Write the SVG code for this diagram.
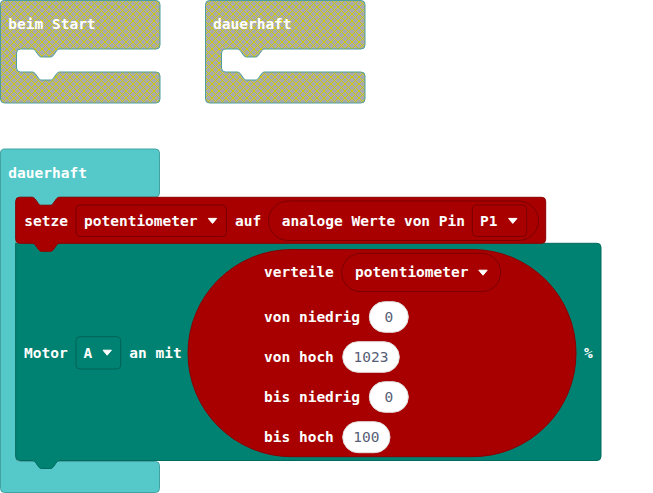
<svg xmlns="http://www.w3.org/2000/svg" xmlns:xlink="http://www.w3.org/1999/xlink" width="653" height="493" viewBox="0 0 653 493">
<style>
.lbl{font-family:"DejaVu Sans Mono","Liberation Mono",monospace;font-weight:bold;font-size:14.5px;fill:#ffffff}
.num{font-family:"DejaVu Sans Mono","Liberation Mono",monospace;font-size:14.5px;fill:#575E75;text-anchor:middle}
.dis{fill:url(#disabledPattern);stroke:#4f9e9e;stroke-width:1}
.cyan{fill:#55C9C9;stroke:#43a3a3;stroke-width:1}
.red{fill:#A80000;stroke:#8a0000;stroke-width:1}
.green{fill:#008272;stroke:#006b5e;stroke-width:1}
.ddr{fill:#A80000;stroke:#7a0000;stroke-width:1}
.ddg{fill:#008272;stroke:#006356;stroke-width:1}
.pill{fill:#ffffff;stroke:#e0e0e0;stroke-width:1}
.arr{fill:#ffffff;stroke:#ffffff;stroke-width:1;stroke-linejoin:round}
</style>
<defs>
<pattern id="disabledPattern" patternUnits="userSpaceOnUse" width="7" height="7">
<rect width="7" height="7" fill="#aaaaaa"/>
<path d="M 0 0 L 7 7 M 7 0 L 0 7" stroke="#cccc00" stroke-width="1"/>
</pattern>
<path id="hatShape" d="M 4.5,0.5 H 156 a4,4 0 0 1 4,4 V 45 a4,4 0 0 1 -4,4 H 60 c -1.5,0 -2.5,0.7 -3.3,1.6 l -3.4,4.8 c -0.8,1 -1.6,1.6 -3,1.6 h -8.6 c -1.4,0 -2.2,-0.6 -3,-1.6 l -3.4,-4.8 c -0.8,-0.9 -1.8,-1.6 -3.3,-1.6 H 20.5 a4,4 0 0 0 -4,4 V 68 a4,4 0 0 0 4,4 H 32 c 1.5,0 2.5,0.7 3.3,1.6 l 3.4,4.8 c 0.8,1 1.6,1.6 3,1.6 h 8.6 c 1.4,0 2.2,-0.6 3,-1.6 l 3.4,-4.8 c 0.8,-0.9 1.8,-1.6 3.3,-1.6 H 156 a4,4 0 0 1 4,4 V 99 a4,4 0 0 1 -4,4 H 4.5 a4,4 0 0 1 -4,-4 V 4.5 a4,4 0 0 1 4,-4 Z"/>
<path id="arrow" d="M -4.2,0 H 4.2 L 0,5 Z"/>
</defs>

<g id="beim-start-disabled">
<use xlink:href="#hatShape" href="#hatShape" class="dis"/>
<text class="lbl" x="8.3" y="28.5">beim Start</text>
</g>

<g id="dauerhaft-disabled">
<use xlink:href="#hatShape" href="#hatShape" class="dis" x="205"/>
<text class="lbl" x="213" y="28.5">dauerhaft</text>
</g>

<g id="dauerhaft">
<path class="cyan" d="M 4.5,149 H 155.5 a4,4 0 0 1 4,4 V 193 a4,4 0 0 1 -4,4 H 60 c -1.5,0 -2.5,0.7 -3.3,1.6 l -3.4,4.8 c -0.8,1 -1.6,1.6 -3,1.6 h -8.6 c -1.4,0 -2.2,-0.6 -3,-1.6 l -3.4,-4.8 c -0.8,-0.9 -1.8,-1.6 -3.3,-1.6 H 19.7 a4,4 0 0 0 -4,4 V 457.5 a4,4 0 0 0 4,4 H 155.5 a4,4 0 0 1 4,4 V 488.5 a4,4 0 0 1 -4,4 H 4.5 a4,4 0 0 1 -4,-4 V 153 a4,4 0 0 1 4,-4 Z"/>
<text class="lbl" x="8.3" y="178.3">dauerhaft</text>
</g>

<g id="motor">
<path class="green" d="M 15.7,243.3 H 31.7 c 1.5,0 2.5,0.7 3.3,1.6 l 3.4,4.8 c 0.8,1 1.6,1.6 3,1.6 h 8.6 c 1.4,0 2.2,-0.6 3,-1.6 l 3.4,-4.8 c 0.8,-0.9 1.8,-1.6 3.3,-1.6 H 597 a4,4 0 0 1 4,4 V 456.5 a4,4 0 0 1 -4,4 H 60 c -1.5,0 -2.5,0.7 -3.3,1.6 l -3.4,4.8 c -0.8,1 -1.6,1.6 -3,1.6 h -8.6 c -1.4,0 -2.2,-0.6 -3,-1.6 l -3.4,-4.8 c -0.8,-0.9 -1.8,-1.6 -3.3,-1.6 H 19.7 a4,4 0 0 1 -4,-4 Z"/>
<text class="lbl" x="24" y="357.7">Motor</text>
<rect class="ddg" x="76" y="336.7" width="44.7" height="32.3" rx="4"/>
<text class="lbl" x="83.5" y="357.7">A</text>
<use xlink:href="#arrow" href="#arrow" class="arr" x="107.2" y="350.2"/>
<text class="lbl" x="129.3" y="357.7">an mit</text>
<text class="lbl" x="584" y="357.7">%</text>
</g>

<g id="verteile">
<rect class="red" x="188" y="249.5" width="388" height="207.2" rx="103.6"/>
<text class="lbl" x="264" y="277.3">verteile</text>
<rect class="ddr" x="341.7" y="253.3" width="159" height="38.4" rx="19.2"/>
<text class="lbl" x="355" y="277.3">potentiometer</text>
<use xlink:href="#arrow" href="#arrow" class="arr" x="483" y="270.2"/>
<text class="lbl" x="264" y="321.7">von niedrig</text>
<rect class="pill" x="369.3" y="301.7" width="39" height="30.6" rx="15.3"/>
<text class="num" x="388.8" y="321.7">0</text>
<text class="lbl" x="264" y="361.7">von hoch</text>
<rect class="pill" x="342.7" y="341.7" width="56.6" height="30.6" rx="15.3"/>
<text class="num" x="371" y="361.7">1023</text>
<text class="lbl" x="264" y="401.7">bis niedrig</text>
<rect class="pill" x="369.3" y="381.7" width="39" height="30.6" rx="15.3"/>
<text class="num" x="388.8" y="401.7">0</text>
<text class="lbl" x="264" y="441.7">bis hoch</text>
<rect class="pill" x="342.7" y="421.7" width="47.3" height="31" rx="15.5"/>
<text class="num" x="366.3" y="441.7">100</text>
</g>

<g id="setze">
<path class="red" d="M 19.7,197.3 H 31.7 c 1.5,0 2.5,0.7 3.3,1.6 l 3.4,4.8 c 0.8,1 1.6,1.6 3,1.6 h 8.6 c 1.4,0 2.2,-0.6 3,-1.6 l 3.4,-4.8 c 0.8,-0.9 1.8,-1.6 3.3,-1.6 H 541.7 a4,4 0 0 1 4,4 V 239.3 a4,4 0 0 1 -4,4 H 60 c -1.5,0 -2.5,0.7 -3.3,1.6 l -3.4,4.8 c -0.8,1 -1.6,1.6 -3,1.6 h -8.6 c -1.4,0 -2.2,-0.6 -3,-1.6 l -3.4,-4.8 c -0.8,-0.9 -1.8,-1.6 -3.3,-1.6 H 19.7 a4,4 0 0 1 -4,-4 V 201.3 a4,4 0 0 1 4,-4 Z"/>
<text class="lbl" x="24.3" y="225.5">setze</text>
<rect class="ddr" x="76" y="205" width="150.5" height="31.5" rx="4"/>
<text class="lbl" x="84" y="225.5">potentiometer</text>
<use xlink:href="#arrow" href="#arrow" class="arr" x="212.5" y="218.4"/>
<text class="lbl" x="235" y="225.5">auf</text>
<rect class="ddr" x="268.5" y="201" width="270" height="39.5" rx="19.75"/>
<text class="lbl" x="281.7" y="225.5">analoge Werte von Pin</text>
<rect class="ddr" x="472.3" y="205" width="54.4" height="31.5" rx="4"/>
<text class="lbl" x="480" y="225.5">P1</text>
<use xlink:href="#arrow" href="#arrow" class="arr" x="512.8" y="218.4"/>
</g>
</svg>
